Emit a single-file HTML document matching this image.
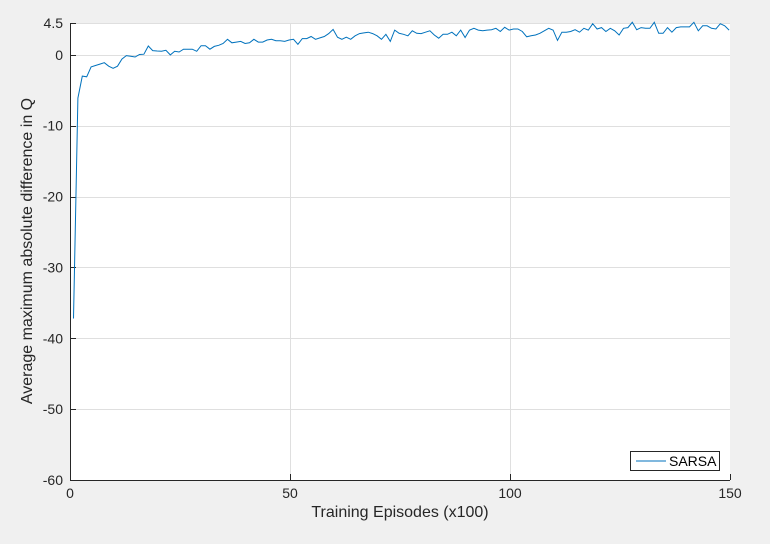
<!DOCTYPE html>
<html><head><meta charset="utf-8"><style>
body{margin:0;background:#f0f0f0;}
svg{display:block;font-family:"Liberation Sans",sans-serif;}
</style></head><body>
<svg width="770" height="544">
<rect x="0" y="0" width="770" height="544" fill="#f0f0f0"/>
<rect x="70" y="23" width="660" height="457" fill="#fff"/>
<g id="grid"></g>
<g id="axes"></g>
<polyline id="line" fill="none" stroke="#0072bd" stroke-width="1"/>
<text x="400" y="517" font-size="16" text-anchor="middle" fill="#262626">Training Episodes (x100)</text>
<text transform="translate(32,251) rotate(-90)" font-size="16" text-anchor="middle" fill="#262626">Average maximum absolute difference in Q</text>
<g>
<rect x="630.5" y="451.5" width="89" height="19" fill="#fff" stroke="#262626" stroke-width="1"/>
<line x1="636" y1="461" x2="666" y2="461" stroke="#0072bd"/>
<text x="669" y="466" font-size="14" fill="#000">SARSA</text>
</g>
</svg>
<script>
const xTicks=[0,50,100,150];
const yTicks=[4.5,0,-10,-20,-30,-40,-50,-60];
const yTickLabels=["4.5","0","-10","-20","-30","-40","-50","-60"];
const values=[-37.2,-6.1,-3.0,-3.1,-1.7,-1.5,-1.3,-1.1,-1.6,-1.9,-1.6,-0.6,-0.1,-0.2,-0.3,0.05,0.1,1.25,0.6,0.55,
0.5,0.65,0.0,0.5,0.4,0.8,0.8,0.8,0.5,1.3,1.3,0.8,1.2,1.35,1.6,2.2,1.7,1.8,1.9,1.6,
1.7,2.2,1.8,1.8,2.1,2.2,2.0,2.0,1.9,2.1,2.2,1.5,2.3,2.3,2.6,2.2,2.4,2.6,3.0,3.6,
2.5,2.2,2.5,2.2,2.7,3.0,3.1,3.2,3.0,2.7,2.2,2.9,1.9,3.5,3.05,2.9,2.7,3.4,3.05,3.0,
3.2,3.4,2.8,2.35,2.9,2.9,3.2,2.7,3.5,2.45,3.5,3.75,3.5,3.4,3.5,3.55,3.75,3.3,3.9,3.5,
3.65,3.65,3.3,2.55,2.7,2.8,3.05,3.4,3.75,3.5,2.05,3.2,3.2,3.3,3.55,3.2,3.75,3.5,4.4,3.65,
3.85,3.3,3.75,3.4,2.8,3.75,3.85,4.6,3.55,3.85,3.75,3.75,4.6,3.05,3.05,3.85,3.2,3.85,3.95,3.95,
3.95,4.6,3.4,4.1,4.1,3.75,3.65,4.4,4.1,3.5];
const NS="http://www.w3.org/2000/svg";
const X0=70,X1=730,Y0=480,Y1=23;
const xs=v=>X0+(v-0)/(150-0)*(X1-X0);
const ys=v=>Y0-(v-(-60))/(4.5-(-60))*(Y0-Y1);
const grid=document.getElementById('grid'),axes=document.getElementById('axes');
function mk(tag,attrs,parent){const e=document.createElementNS(NS,tag);for(const k in attrs)e.setAttribute(k,attrs[k]);parent.appendChild(e);return e;}
xTicks.forEach(t=>{
 const x=Math.round(xs(t))+0.5;
 if(t>0&&t<150){const g=mk('line',{x1:x,y1:Y1,x2:x,y2:Y0,stroke:'#dfdfdf'},grid);
 
 }
 const tk=mk('line',{x1:x,y1:Y0,x2:x,y2:Y0-6,stroke:'#262626'},axes);
 
 
 const tx=mk('text',{x:xs(t),y:498,'font-size':14,'text-anchor':'middle',fill:'#262626'},axes);
 tx.textContent=String(t);
 
 
});
yTicks.forEach((t,i)=>{
 const y=Math.round(ys(t))+0.5;
 if(t>-60){const g=mk('line',{x1:X0,y1:y,x2:X1,y2:y,stroke:'#dfdfdf'},grid);
 
 }
 const tk=mk('line',{x1:X0,y1:y,x2:X0+6,y2:y,stroke:'#262626'},axes);
 
 
 const tx=mk('text',{x:63,y:ys(t)+5,'font-size':14,'text-anchor':'end',fill:'#262626'},axes);
 tx.textContent=yTickLabels[i];
 
 
});
const ax=mk('path',{d:`M${X0+0.5} ${Y1} V${Y0+0.5} H${X1}`,fill:'none',stroke:'#262626'},axes);


document.getElementById('line').setAttribute('points',values.map((v,i)=>xs(i+0.8).toFixed(1)+','+ys(v).toFixed(1)).join(' '));
</script>
</body></html>
